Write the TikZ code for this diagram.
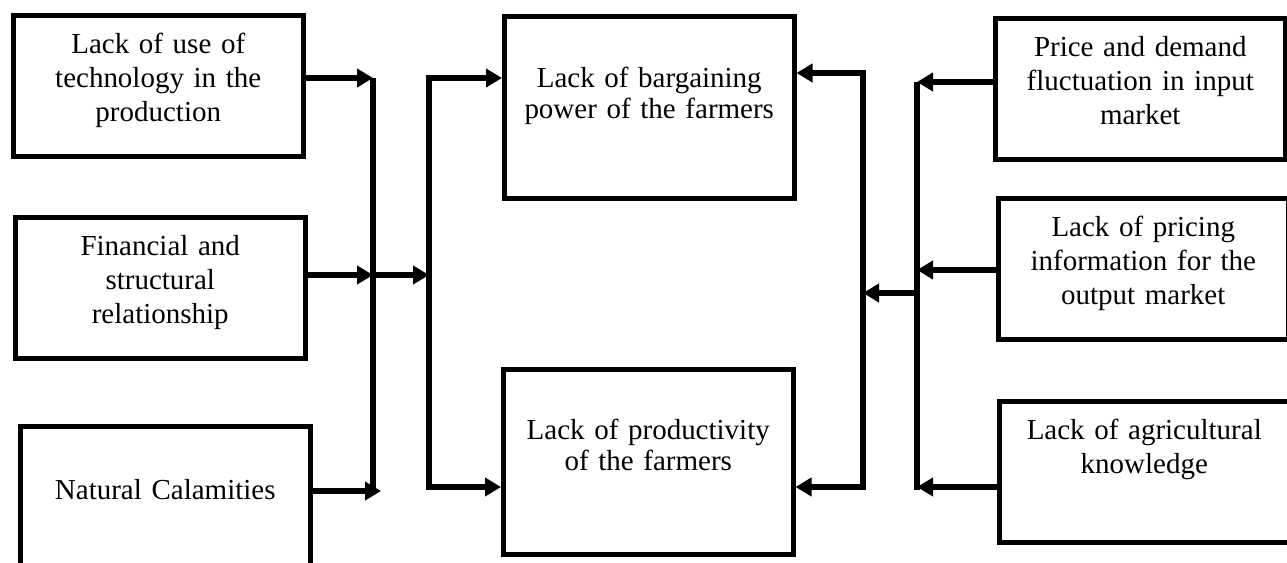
\documentclass[tikz,border=0pt]{standalone}
\usepackage{fontspec}
\setmainfont{Liberation Serif}
\usetikzlibrary{arrows.meta}

\tikzset{
  factor/.style = {draw, line width=2.6pt, text width=5.8cm, align=center,
    inner sep=0pt, anchor=north west},
  cause/.style = {factor, text height=0.76cm, text depth=2.07cm,
    font=\fontsize{16.5}{19.35}\selectfont},
  effect/.style = {factor, text height=1.42cm, text depth=2.22cm,
    font=\fontsize{16.5}{18}\selectfont},
  link/.style = {line width=3.4pt},
  arrow/.style = {link, -{Triangle[length=0.32cm, width=0.36cm]}}
}

\begin{document}
\begin{tikzpicture}[x=0.02cm, y=-0.02cm]
  \useasboundingbox (0,0) rectangle (1287,563);
  \clip (0,0) rectangle (1287,563);

  \node[cause] (tech) at (11,13) {Lack of use of\\ technology in the\\ production};
  \node[cause] (finance) at (13,215) {Financial and\\ structural\\ relationship};
  \node[cause, text height=1.46cm, text depth=2cm] (nature) at (18,424) {Natural Calamities};

  \node[effect] (bargain) at (502,14) {Lack of bargaining\\ power of the farmers};
  \node[effect, text height=1.40cm, text depth=2.30cm] (product) at (501,367) {Lack of productivity\\ of the farmers};

  \node[cause] (price) at (993,16) {Price and demand\\ fluctuation in input\\ market};
  \node[cause] (pricing) at (996,196) {Lack of pricing\\ information for the\\ output market};
  \node[cause] (knowledge) at (997,399) {Lack of agricultural\\ knowledge};

  \coordinate (leftTop) at (373,78);
  \coordinate (leftMid) at (373,275);
  \coordinate (leftEnd) at (373,491);
  \coordinate (leftTip) at (381,491);
  \coordinate (joinTop) at (429,78);
  \coordinate (joinMid) at (429,275);
  \coordinate (joinEnd) at (429,487);

  \coordinate (outTop) at (863,73);
  \coordinate (outMid) at (863,293);
  \coordinate (outEnd) at (863,487);
  \coordinate (inTop) at (917,82);
  \coordinate (inMid) at (917,293);
  \coordinate (inEnd) at (917,490);

  \draw[link] (leftTop) -- (leftEnd);
  \draw[arrow] (tech.east |- leftTop) -- (leftTop);
  \draw[arrow] (finance.east |- leftMid) -- (leftMid);
  \draw[arrow] (nature.east |- leftTip) -- (leftTip);
  \draw[arrow] (leftMid) -- (joinMid);
  \draw[arrow] (joinEnd) -- (joinTop) -- (bargain.west |- joinTop);
  \draw[arrow] (joinTop) -- (joinEnd) -- (product.west |- joinEnd);

  \draw[link] (inTop) -- (inEnd);
  \draw[arrow] (price.west |- inTop) -- (inTop);
  \draw[arrow] (pricing.west |- 0,270) -- (917,270);
  \draw[arrow] (knowledge.west |- 0,487) -- (917,487);
  \draw[arrow] (inMid) -- (outMid);
  \draw[arrow] (outEnd) -- (outTop) -- (bargain.east |- outTop);
  \draw[arrow] (outTop) -- (outEnd) -- (product.east |- outEnd);
\end{tikzpicture}
\end{document}
